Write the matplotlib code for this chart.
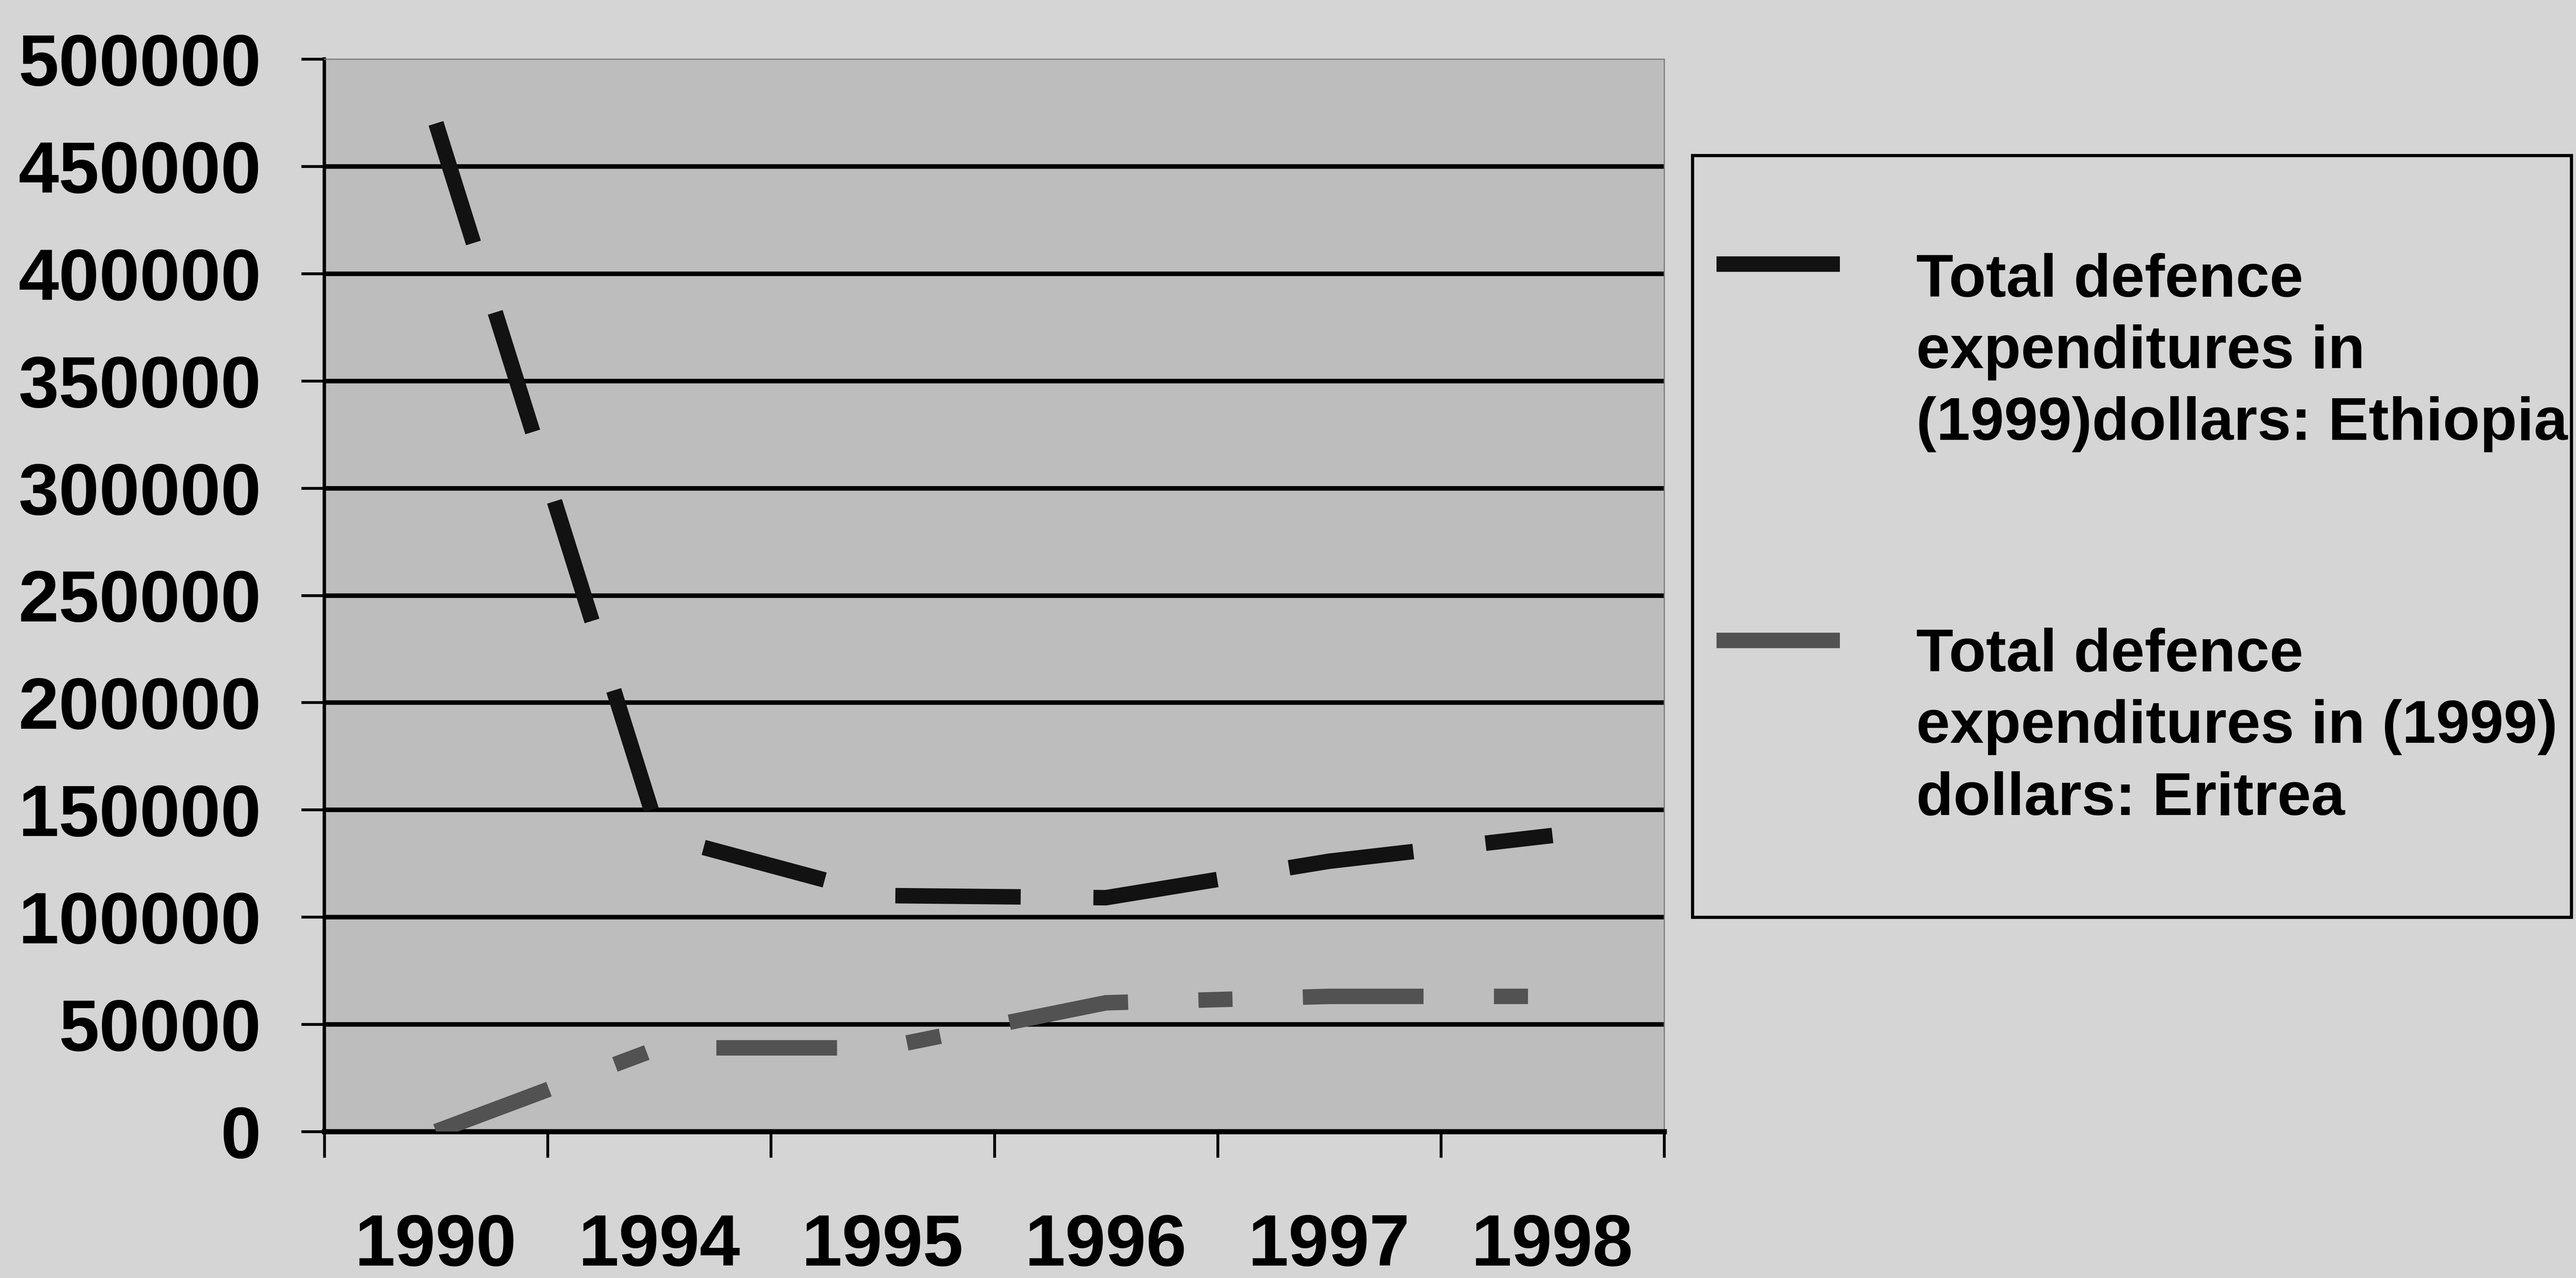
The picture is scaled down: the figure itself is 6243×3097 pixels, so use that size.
import numpy as np
import matplotlib
matplotlib.use("Agg")
import matplotlib.pyplot as plt
from matplotlib.lines import Line2D
from matplotlib.patches import Rectangle
from matplotlib.font_manager import FontProperties

# ---- data ----
years = ["1990", "1994", "1995", "1996", "1997", "1998"]
ethiopia = [470000, 138000, 110000, 109000, 126000, 138000]
eritrea = [0, 39000, 39000, 60000, 63000, 63000]
y_ticks = [0, 50000, 100000, 150000, 200000, 250000, 300000, 350000, 400000, 450000, 500000]
label_ethiopia = "Total defence\nexpenditures in\n(1999)dollars: Ethiopia"
label_eritrea = "Total defence\nexpenditures in (1999)\ndollars: Eritrea"

# ---- style ----
W, H, DPI = 6243, 3097, 100
BG = "#d5d5d5"
PLOT_BG = "#bdbdbd"
C_ETH = "#121212"
C_ERI = "#525252"
FONT = "Liberation Sans"
TICK_FS = 127
LEG_FS = 106

plt.rcParams["font.family"] = [FONT, "DejaVu Sans"]
plt.rcParams["font.weight"] = "bold"

fig = plt.figure(figsize=(W / DPI, H / DPI), dpi=DPI, facecolor=BG)
ax = fig.add_axes([786 / W, 1 - 2742 / H, (4033 - 786) / W, (2742 - 143) / H])
ax.set_facecolor(PLOT_BG)

# text metrics (pixels) for positioning
fig.canvas.draw()
renderer = fig.canvas.get_renderer()
def lp_metrics(size):
    prop = FontProperties(family=FONT, weight="bold", size=size)
    _, h, d = renderer.get_text_width_height_descent("lp", prop, ismath=False)
    return h, d

x = np.arange(len(years))
lw = 27
ax.plot(x, ethiopia, color=C_ETH, lw=lw, dashes=(8.1, 4.7),
        dash_capstyle="butt", dash_joinstyle="miter", zorder=3)
ax.plot(x, eritrea, color=C_ERI, lw=lw, dashes=(7.8, 4.55, 2.2, 4.55),
        dash_capstyle="butt", dash_joinstyle="miter", zorder=3)

# axes limits / ticks
ax.set_xlim(-0.5, len(years) - 0.5)
ax.set_ylim(y_ticks[0], y_ticks[-1])
ax.set_yticks(y_ticks)
ax.set_yticklabels([str(v) for v in y_ticks])
ax.set_xticks(np.arange(-0.5, len(years)))
ax.set_xticklabels([])
ax.set_xticks(x, minor=True)
ax.set_xticklabels(years, minor=True)

h_t, d_t = lp_metrics(TICK_FS)
x_pad_px = (3067 - (h_t - d_t)) - 2742
ax.tick_params(axis="y", which="major", length=40, width=5, direction="out",
               pad=70, labelsize=TICK_FS, colors="black")
ax.tick_params(axis="x", which="major", length=45, width=5, direction="out",
               labelbottom=False)
ax.tick_params(axis="x", which="minor", length=0, pad=x_pad_px * 72 / DPI,
               labelsize=TICK_FS)
for lab in ax.get_xticklabels(minor=True) + ax.get_yticklabels():
    lab.set_fontweight("bold")

# gridlines
ax.yaxis.grid(True, color="black", lw=8)
ax.get_ygridlines()[-1].set_visible(False)
ax.get_ygridlines()[0].set_visible(False)

for side in ("top", "right"):
    ax.spines[side].set_color("#7a7a7a")
    ax.spines[side].set_linewidth(2)
ax.spines["left"].set_linewidth(6)
ax.spines["bottom"].set_linewidth(9)

# ---- legend (manual, handle aligned with first text line) ----
fig.add_artist(Rectangle((4102 / W, 1 - 2223 / H), (6232 - 4102) / W, (2223 - 377) / H,
                         transform=fig.transFigure, facecolor=BG, edgecolor="black",
                         lw=5.5, zorder=1))
fig.add_artist(Line2D([4160 / W, 4459 / W], [1 - 640 / H, 1 - 640 / H],
                      transform=fig.transFigure, color=C_ETH, lw=lw,
                      solid_capstyle="butt", zorder=2))
fig.add_artist(Line2D([4160 / W, 4459 / W], [1 - 1552 / H, 1 - 1552 / H],
                      transform=fig.transFigure, color=C_ERI, lw=lw,
                      solid_capstyle="butt", zorder=2))
h_l, d_l = lp_metrics(LEG_FS)
leg_ls = 1.05 * 176.0 / h_l
# va='baseline' aligns the last line's baseline
fig.text(4644 / W, 1 - 1066 / H, label_ethiopia, ha="left", va="baseline",
         fontsize=LEG_FS, fontweight="bold", linespacing=leg_ls, zorder=3)
fig.text(4644 / W, 1 - 1974 / H, label_eritrea, ha="left", va="baseline",
         fontsize=LEG_FS, fontweight="bold", linespacing=leg_ls, zorder=3)

fig.savefig("out.png", dpi=DPI, facecolor=BG)
